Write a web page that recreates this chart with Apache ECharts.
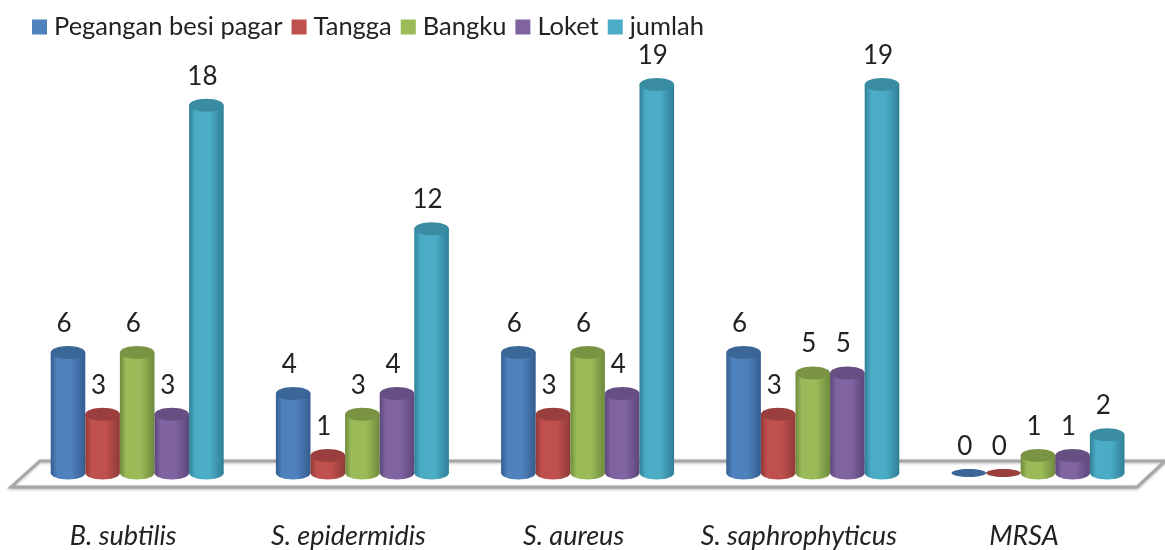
<!DOCTYPE html>
<html>
<head>
<meta charset="utf-8">
<style>
html, body { margin: 0; padding: 0; background: #fff; }
#chart { width: 1165px; height: 550px; }
</style>
<script src="https://cdn.jsdelivr.net/npm/echarts@6/dist/echarts.min.js"></script>
</head>
<body>
<div id="chart"></div>
<script>
var categories = ['B. subtilis', 'S. epidermidis', 'S. aureus', 'S. saphrophyticus', 'MRSA'];
var peganganBesiPagar = [6, 4, 6, 6, 0];
var tangga = [3, 1, 3, 3, 0];
var bangku = [6, 3, 6, 5, 1];
var loket = [3, 4, 4, 5, 1];
var jumlah = [18, 12, 19, 19, 2];

var seriesNames = ['Pegangan besi pagar', 'Tangga', 'Bangku', 'Loket', 'jumlah'];
var seriesValues = [peganganBesiPagar, tangga, bangku, loket, jumlah];
// warna: muka, tepi gelap, tutup
var bodyColors = ['#4f81bd', '#c0504d', '#9bbb59', '#8064a2', '#4bacc6'];
var edgeColors = ['#345d8f', '#8f3a38', '#6f8a3c', '#5c4679', '#2f7f96'];
var capColors = ['#3a6797', '#9a3f3d', '#7a9444', '#664f82', '#3a8ca3'];

var BAR_WIDTH = 34.6;
var CAP_RY = 6.5;
var FLAT_RY = 4;
var FOOT_LIFT = 3; // alas silinder sedikit di atas garis nol

function bodyFill(i) {
    return {
        type: 'linear', x: 0, y: 0, x2: 1, y2: 0,
        colorStops: [
            { offset: 0, color: edgeColors[i] },
            { offset: 0.18, color: bodyColors[i] },
            { offset: 0.6, color: bodyColors[i] },
            { offset: 1, color: edgeColors[i] }
        ]
    };
}

function makeRenderItem(i) {
    return function (params, api) {
        var value = api.value(1);
        var base = api.coord([api.value(0), 0]);
        var top = api.coord([api.value(0), value]);
        var cx = base[0] + (i - 2) * BAR_WIDTH;
        var rx = BAR_WIDTH / 2;
        var foot = base[1] - FOOT_LIFT;
        var children = [];
        if (value > 0) {
            children.push({
                type: 'ellipse',
                shape: { cx: cx, cy: foot, rx: rx, ry: CAP_RY },
                style: { fill: bodyFill(i) }
            });
            children.push({
                type: 'rect',
                shape: { x: cx - rx, y: top[1], width: BAR_WIDTH, height: foot - top[1] },
                style: { fill: bodyFill(i) }
            });
        }
        children.push({
            type: 'ellipse',
            shape: { cx: cx, cy: value > 0 ? top[1] : foot, rx: rx, ry: value > 0 ? CAP_RY : FLAT_RY },
            style: { fill: capColors[i] }
        });
        children.push({
            type: 'text',
            z2: 10,
            style: {
                x: cx - 4, y: top[1] - 29,
                text: String(value),
                fill: '#222',
                font: '26px Lato',
                textAlign: 'center',
                textVerticalAlign: 'middle'
            }
        });
        return { type: 'group', children: children };
    };
}

var myChart = echarts.init(document.getElementById('chart'), null, { renderer: 'canvas' });

var series = seriesNames.map(function (name, i) {
    return {
        name: name,
        type: 'custom',
        animation: false,
        clip: false,
        itemStyle: { color: bodyColors[i] },
        encode: { x: 0, y: 1 },
        data: seriesValues[i].map(function (v, k) { return [k, v]; }),
        renderItem: makeRenderItem(i)
    };
});

myChart.setOption({
    animation: false,
    backgroundColor: '#fff',
    legend: {
        left: 27,
        top: 9,
        icon: 'rect',
        itemWidth: 15,
        itemHeight: 15,
        itemGap: 9,
        textStyle: { fontFamily: 'Lato', fontSize: 25.5, color: '#222', padding: [0, 0, 0, 2] },
        data: seriesNames
    },
    grid: { left: 24.6, right: 14.4, top: 64, bottom: 74 },
    xAxis: {
        type: 'category',
        data: categories,
        axisLine: { show: false },
        axisTick: { show: false },
        axisLabel: {
            interval: 0,
            fontFamily: 'Lato',
            fontStyle: 'italic',
            fontSize: 27,
            color: '#222',
            margin: 47,
            padding: [0, 28, 0, 0]
        }
    },
    yAxis: { type: 'value', min: 0, max: 20, show: false },
    graphic: [{
        type: 'polygon',
        z: 0,
        shape: { points: [[11, 487], [40, 461], [1165, 461], [1137, 487]] },
        style: {
            fill: '#fff',
            stroke: '#a6a6a6',
            lineWidth: 3,
            shadowColor: 'rgba(0,0,0,0.25)',
            shadowBlur: 3,
            shadowOffsetY: 1
        }
    }],
    series: series
});
</script>
</body>
</html>
